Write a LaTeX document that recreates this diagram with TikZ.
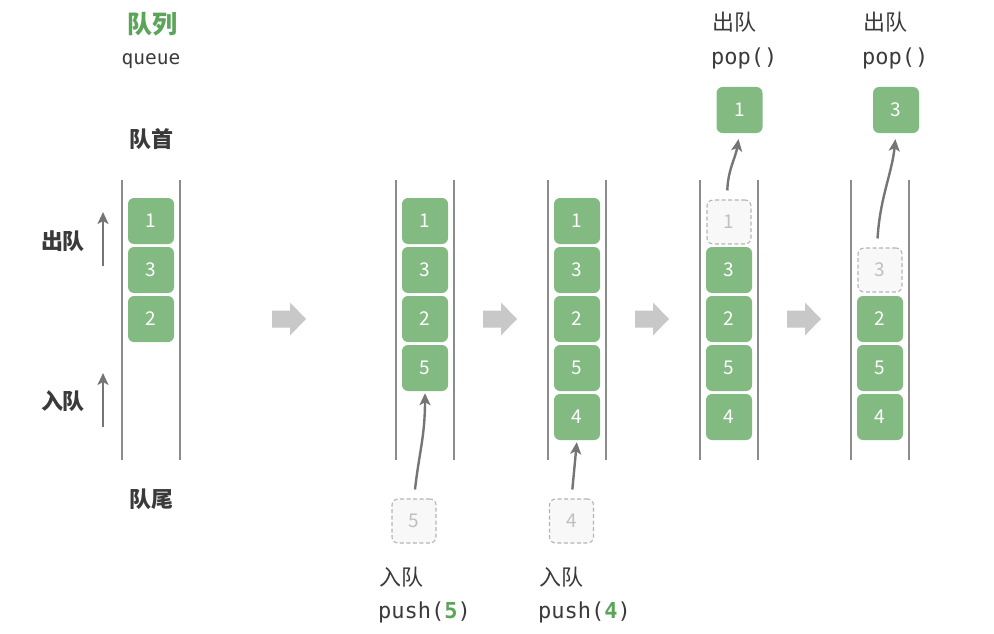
\documentclass[tikz,border=0pt]{standalone}
\usepackage{fontspec}
\setmainfont{Noto Sans CJK SC}
\setmonofont{DejaVu Sans Mono}
\usetikzlibrary{arrows.meta}
\definecolor{boxgreen}{HTML}{82BA82}
\definecolor{titlegreen}{HTML}{5AA55A}
\definecolor{wallgray}{HTML}{8C8C8C}
\definecolor{arrgray}{HTML}{757575}
\definecolor{fatgray}{HTML}{C8C8C8}
\definecolor{txtgray}{HTML}{3A3A3A}
\definecolor{ghostfill}{HTML}{F8F8F8}
\definecolor{ghostline}{HTML}{B4B4B4}
\definecolor{ghosttext}{HTML}{C0C0C0}
\tikzset{
  qbox/.style={rectangle, rounded corners=6pt, minimum width=46pt, minimum height=46pt, inner sep=0pt,
    fill=boxgreen, text=white, font=\fontsize{19}{19}\selectfont},
  gbox/.style={rectangle, rounded corners=6pt, minimum width=44pt, minimum height=44pt, inner sep=0pt,
    fill=ghostfill, draw=ghostline, dashed, dash pattern=on 4pt off 2.5pt, line width=1.1pt, text=ghosttext, font=\fontsize{19}{19}\selectfont},
  wall/.style={draw=wallgray, line width=1.3pt},
  arr/.style={-{Stealth[length=12pt,width=11pt,inset=3pt]}, line width=2.4pt, draw=arrgray},
  lbl/.style={text=txtgray, font=\fontsize{22}{22}\selectfont, inner sep=0pt},
  blbl/.style={text=txtgray, font=\fontsize{22}{22}\selectfont\bfseries, inner sep=0pt},
  mono/.style={text=txtgray, font=\fontsize{22}{22}\selectfont\ttfamily, inner sep=0pt},
  fatarrow/.pic={\fill[fatgray] (-17,-8.5) -- (1,-8.5) -- (1,-16.5) -- (17,0) -- (1,16.5) -- (1,8.5) -- (-17,8.5) -- cycle;}
}
\begin{document}
\begin{tikzpicture}[x=1pt,y=-1pt]
\useasboundingbox (0,0) rectangle (994,634);

% titles
\node[text=titlegreen, font=\fontsize{25}{25}\selectfont\bfseries, inner sep=0pt] (title) at (152,24) {队列};
\node[text=txtgray, font=\fontsize{19.5}{19.5}\selectfont\ttfamily, inner sep=0pt] (qname) at (151,61) {queue};
\node[blbl] (head) at (151,139) {队首};
\node[blbl] (tail) at (151,499) {队尾};
\node[blbl] (outl) at (63,241) {出队};
\node[blbl] (inl) at (63,401) {入队};
\coordinate (o1) at (103,266); \coordinate (o2) at (103,212);
\coordinate (i1) at (103,427); \coordinate (i2) at (103,373);
\draw[arr] (o1) -- (o2);
\draw[arr] (i1) -- (i2);

% walls
\foreach \c in {151,425,577,729,880}{
  \draw[wall] (\c-29,180) -- (\c-29,460);
  \draw[wall] (\c+29,180) -- (\c+29,460);
}

% column 1
\node[qbox] (a1) at (151,221) {1};
\node[qbox] (a2) at (151,270) {3};
\node[qbox] (a3) at (151,319) {2};

% column 2
\node[qbox] (b1) at (425,221) {1};
\node[qbox] (b2) at (425,270) {3};
\node[qbox] (b3) at (425,319) {2};
\node[qbox] (b4) at (425,368) {5};
\node[gbox] (bd) at (414,521) {5};
\draw[arr, shorten <=9pt, shorten >=2pt] (bd.north) .. controls +(5,-45) and +(0,45) .. (b4.south);
\node[lbl, anchor=west] (bl1) at (379,577) {入队};
\node[mono, anchor=west] (bl2) at (378,612) {push(\textcolor{titlegreen}{\bfseries 5})};

% column 3
\node[qbox] (c1) at (577,221) {1};
\node[qbox] (c2) at (577,270) {3};
\node[qbox] (c3) at (577,319) {2};
\node[qbox] (c4) at (577,368) {5};
\node[qbox] (c5) at (577,417) {4};
\node[gbox] (cd) at (571.5,521) {4};
\draw[arr, shorten <=9pt, shorten >=2pt] (cd.north) -- (c5.south);
\node[lbl, anchor=west] (cl1) at (539,577) {入队};
\node[mono, anchor=west] (cl2) at (538,612) {push(\textcolor{titlegreen}{\bfseries 4})};

% column 4
\node[gbox] (dd) at (729,222) {1};
\node[qbox] (d2) at (729,270) {3};
\node[qbox] (d3) at (729,319) {2};
\node[qbox] (d4) at (729,368) {5};
\node[qbox] (d5) at (729,417) {4};
\node[qbox] (dp) at (739.5,110) {1};
\draw[arr, shorten <=9pt, shorten >=6pt] ([xshift=-2pt]dd.north) .. controls +(1,-30) and +(-4,25) .. (dp.south);
\node[lbl, anchor=west] (dl1) at (712,22) {出队};
\node[mono, anchor=west] (dl2) at (711,58) {pop()};

% column 5
\node[gbox] (ed) at (880,270) {3};
\node[qbox] (e3) at (880,319) {2};
\node[qbox] (e4) at (880,368) {5};
\node[qbox] (e5) at (880,417) {4};
\node[qbox] (ep) at (896,110) {3};
\draw[arr, shorten <=9pt, shorten >=6pt] ([xshift=-3pt]ed.north) .. controls +(3,-50) and +(-4,40) .. (ep.south);
\node[lbl, anchor=west] (el1) at (863,22) {出队};
\node[mono, anchor=west] (el2) at (862,58) {pop()};

% step arrows
\pic at (289,319) {fatarrow};
\pic at (500,319) {fatarrow};
\pic at (652,319) {fatarrow};
\pic at (804,319) {fatarrow};
\end{tikzpicture}
\end{document}
